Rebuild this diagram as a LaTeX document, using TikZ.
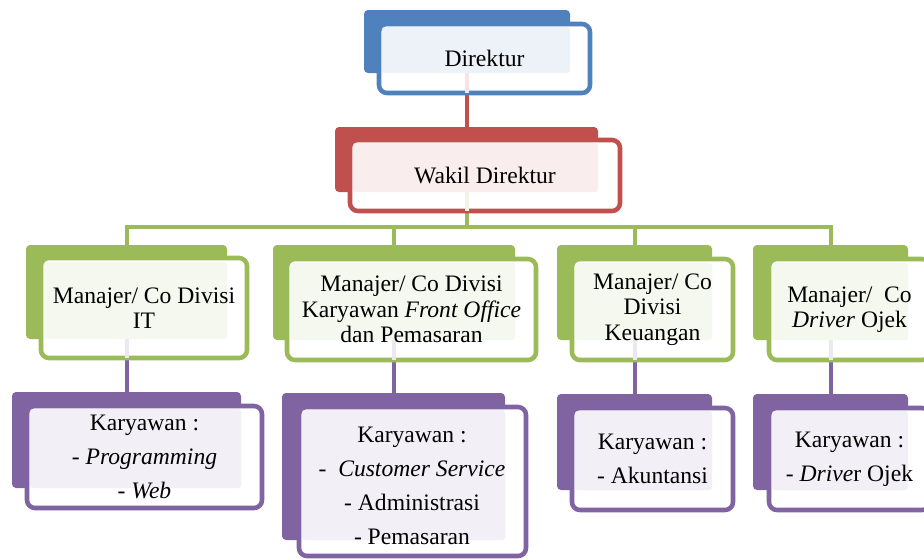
\documentclass[tikz,border=0pt]{standalone}
\usepackage{fontspec}
\setmainfont{Liberation Serif}
\usepackage{xcolor}
\usepackage{tikz}
\usetikzlibrary{fit}
\definecolor{offBlue}{HTML}{4F81BD}
\definecolor{offRed}{HTML}{C0504D}
\definecolor{offGreen}{HTML}{9BBB59}
\definecolor{offPurple}{HTML}{8064A2}

\begin{document}
\begin{tikzpicture}[
  x=0.75pt, y=-0.75pt,
  font=\fontsize{17.7}{19.2}\selectfont,
  tab/.style={fill=#1, rounded corners=3pt, inner sep=0pt},
  frame/.style={draw=#1, line width=3.4pt, fill=white, rounded corners=6pt, inner sep=0pt},
  tint/.style={fill=#1!10, rounded corners=2pt, inner sep=0pt},
  lbl/.style={align=center, inner sep=0pt, text=black},
  staff/.style={lbl, font=\fontsize{17.7}{25.5}\selectfont},
  link/.style={draw=#1, line width=3pt},
  faint/.style={draw=#1!15, line width=3pt},
]
\path[use as bounding box, clip] (0,0) rectangle (924,558);

% back tabs
\node[tab=offBlue, fit={(364,10) (570,73)}] (dir) {};
\node[tab=offRed, fit={(335,127) (598,192)}] (wakil) {};
\node[tab=offGreen, fit={(26,245) (227,339)}] (mIT) {};
\node[tab=offGreen, fit={(273,245) (515,340)}] (mFO) {};
\node[tab=offGreen, fit={(557,245) (712,340)}] (mKeu) {};
\node[tab=offGreen, fit={(753,245) (908,340)}] (mDrv) {};
\node[tab=offPurple, fit={(12,392) (241,488)}] (kIT) {};
\node[tab=offPurple, fit={(282,393) (505,540)}] (kFO) {};
\node[tab=offPurple, fit={(557,394) (712,490)}] (kKeu) {};
\node[tab=offPurple, fit={(753,394) (908,490)}] (kDrv) {};

% connectors
\coordinate (bus) at (467,227);
\draw[link=offRed] (dir.south) -- (dir.south |- wakil.north);
\draw[link=offGreen] (wakil.south) -- (wakil.south |- bus);
\draw[link=offGreen] (mIT.north) -- (mIT.north |- bus) -- (mDrv.north |- bus) -- (mDrv.north);
\draw[link=offGreen] (mFO.north) -- (mFO.north |- bus);
\draw[link=offGreen] (mKeu.north) -- (mKeu.north |- bus);
\draw[link=offPurple] (mIT.south) -- (kIT.north);
\draw[link=offPurple] (mFO.south) -- (mFO.south |- kFO.north);
\draw[link=offPurple] (mKeu.south) -- (kKeu.north);
\draw[link=offPurple] (mDrv.south) -- (kDrv.north);

% frames
\node[frame=offBlue, fit={(379,24) (590,93)}] (dirF) {};
\node[frame=offRed, fit={(350,140) (620,211)}] (wakilF) {};
\node[frame=offGreen, fit={(41,258) (247,358)}] (mITF) {};
\node[frame=offGreen, fit={(287,259) (536,360)}] (mFOF) {};
\node[frame=offGreen, fit={(572,259) (733,360)}] (mKeuF) {};
\node[frame=offGreen, fit={(769,259) (930,360)}] (mDrvF) {};
\node[frame=offPurple, fit={(27,406) (262,508)}] (kITF) {};
\node[frame=offPurple, fit={(299,407) (526,556)}] (kFOF) {};
\node[frame=offPurple, fit={(572,408) (733,510)}] (kKeuF) {};
\node[frame=offPurple, fit={(769,408) (930,510)}] (kDrvF) {};

% connector ends seen through the frames
\draw[faint=offRed] (dir.south) -- ([yshift=1.7pt]dir.south |- dirF.south);
\draw[faint=offGreen] (wakil.south) -- ([yshift=1.7pt]wakil.south |- wakilF.south);
\draw[faint=offPurple] (mIT.south) -- ([yshift=1.7pt]mIT.south |- mITF.south);
\draw[faint=offPurple] (mFO.south) -- ([yshift=1.7pt]mFO.south |- mFOF.south);
\draw[faint=offPurple] (mKeu.south) -- ([yshift=1.7pt]mKeu.south |- mKeuF.south);
\draw[faint=offPurple] (mDrv.south) -- ([yshift=1.7pt]mDrv.south |- mDrvF.south);

% tinted text areas
\node[tint=offBlue, fit={(382,27) (570,73)}] (dirT) {};
\node[tint=offRed, fit={(353,143) (598,192)}] (wakilT) {};
\node[tint=offGreen, fit={(44,262) (227,339)}] (mITT) {};
\node[tint=offGreen, fit={(290,263) (515,340)}] (mFOT) {};
\node[tint=offGreen, fit={(575,263) (712,340)}] (mKeuT) {};
\node[tint=offGreen, fit={(772,263) (908,340)}] (mDrvT) {};
\node[tint=offPurple, fit={(30,409) (241,488)}] (kITT) {};
\node[tint=offPurple, fit={(302,410) (505,540)}] (kFOT) {};
\node[tint=offPurple, fit={(575,411) (712,490)}] (kKeuT) {};
\node[tint=offPurple, fit={(772,411) (908,490)}] (kDrvT) {};

% labels
\node[lbl] (dirL) at (dirF.center) {Direktur};
\node[lbl] (wakilL) at (wakilF.center) {Wakil Direktur};
\node[lbl] (mITL) at (mITF.center) {Manajer/ Co Divisi\\IT};
\node[lbl] (mFOL) at (mFOF.center) {Manajer/ Co Divisi\\Karyawan \textit{Front Office}\\dan Pemasaran};
\node[lbl] (mKeuL) at (mKeuF.center) {Manajer/ Co\\Divisi\\Keuangan};
\node[lbl] (mDrvL) at (mDrvF.center) {Manajer/~~Co\\\textit{Driver} Ojek};
\node[staff] (kITL) at (kITF.center) {Karyawan :\\- \textit{Programming}\\- \textit{Web}};
\node[staff] (kFOL) at (412,486) {Karyawan :\\-~~\textit{Customer Service}\\- Administrasi\\- Pemasaran};
\node[staff] (kKeuL) at (kKeuF.center) {Karyawan :\\- Akuntansi};
\node[staff] (kDrvL) at (kDrvF.center) {Karyawan :\\- \textit{Drive}r Ojek};
\end{tikzpicture}
\end{document}
